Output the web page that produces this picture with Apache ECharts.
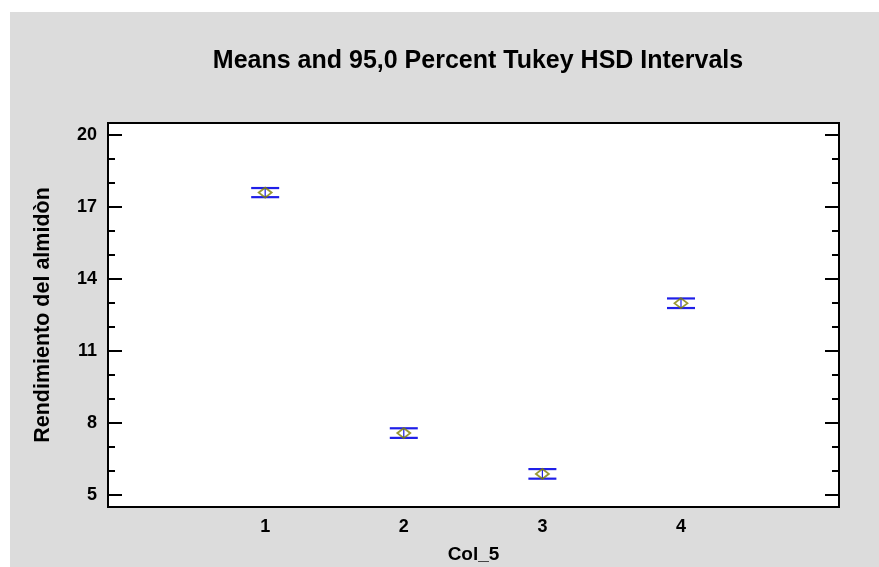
<!DOCTYPE html>
<html>
<head>
<meta charset="utf-8">
<script src="https://cdn.jsdelivr.net/npm/echarts@6/dist/echarts.min.js"></script>
<style>html,body{margin:0;padding:0;background:#fff;}#c{width:879px;height:567px;}</style>
</head>
<body>
<div id="c"></div>
<script>
const titleText = 'Means and 95,0 Percent Tukey HSD Intervals';
const xName = 'Col_5';
const yName = 'Rendimiento del almidòn';
const groupLabels = ['1', '2', '3', '4'];
const groupPos = [1, 2, 3, 4];
const means = [17.60, 7.58, 5.88, 12.99];
const lower = [17.41, 7.38, 5.68, 12.79];
const upper = [17.79, 7.78, 6.08, 13.19];
const yMajor = [5, 8, 11, 14, 17, 20];
const yMinor = [6, 7, 9, 10, 12, 13, 15, 16, 18, 19];

const FONT = '"Liberation Sans", Arial, sans-serif';
const chart = echarts.init(document.getElementById('c'), null, {renderer: 'canvas'});

const intervalData = groupPos.map((x, i) => [x, lower[i], upper[i]]);
const meanData = groupPos.map((x, i) => [x, means[i]]);

function yAxisBase(pos, ticks, len, labels) {
  return {
    type: 'value', position: pos, min: 4.5, max: 20.5, gridIndex: 0, offset: 0,
    axisLine: {show: false, onZero: false}, splitLine: {show: false},
    axisTick: {show: true, inside: true, length: len, customValues: ticks, lineStyle: {color: '#000', width: 2}},
    axisLabel: labels ? {show: true, customValues: ticks, color: '#000', fontWeight: 'bold', fontSize: 18, fontFamily: FONT, margin: 11} : {show: false}
  };
}

const option = {
  backgroundColor: '#fff',
  animation: false,
  graphic: [{type: 'rect', z: -10, silent: true, shape: {x: 10, y: 12, width: 869, height: 555}, style: {fill: '#dcdcdc'}}],
  title: {
    text: titleText, left: 473, top: 44, textAlign: 'center',
    textStyle: {fontFamily: FONT, fontWeight: 'bold', fontSize: 25, color: '#000'}
  },
  grid: {left: 108, top: 123, width: 731, height: 384, show: true, backgroundColor: '#fff', borderColor: '#000', borderWidth: 2, containLabel: false, outerBoundsMode: 'none'},
  xAxis: {
    type: 'value', min: -0.134, max: 5.14,
    name: xName, nameLocation: 'middle', nameGap: 38,
    nameTextStyle: {fontFamily: FONT, fontWeight: 'bold', fontSize: 19, color: '#000'},
    axisLine: {show: false, onZero: false}, axisTick: {show: false}, splitLine: {show: false},
    axisLabel: {
      customValues: groupPos, color: '#000', fontWeight: 'bold', fontSize: 18, fontFamily: FONT, margin: 11,
      formatter: v => groupLabels[groupPos.indexOf(v)] ?? ''
    }
  },
  yAxis: [
    Object.assign(yAxisBase('left', yMajor, 14, true), {
      name: yName, nameLocation: 'middle', nameGap: 54, nameRotate: 90,
      nameTextStyle: {fontFamily: FONT, fontWeight: 'bold', fontSize: 21.5, color: '#000'}
    }),
    yAxisBase('left', yMinor, 7, false),
    yAxisBase('right', yMajor, 14, false),
    yAxisBase('right', yMinor, 7, false)
  ],
  series: [
    {
      type: 'custom', yAxisIndex: 0, data: intervalData, z: 3,
      renderItem: function (params, api) {
        const x = api.value(0);
        const pLo = api.coord([x, api.value(1)]);
        const pHi = api.coord([x, api.value(2)]);
        const hw = 14;
        const st = {stroke: '#1f1fe8', lineWidth: 2.2};
        return {
          type: 'group',
          children: [
            {type: 'line', shape: {x1: pLo[0] - hw, y1: pLo[1], x2: pLo[0] + hw, y2: pLo[1]}, style: st},
            {type: 'line', shape: {x1: pHi[0] - hw, y1: pHi[1], x2: pHi[0] + hw, y2: pHi[1]}, style: st},
            {type: 'line', shape: {x1: pLo[0], y1: pLo[1], x2: pHi[0], y2: pHi[1]}, style: {stroke: '#1f1fe8', lineWidth: 1.2}}
          ]
        };
      }
    },
    {
      type: 'scatter', yAxisIndex: 0, data: meanData, z: 4,
      symbol: 'diamond', symbolSize: [13, 10],
      itemStyle: {color: 'rgba(0,0,0,0)', borderColor: '#808000', borderWidth: 1.8}
    }
  ]
};
chart.setOption(option);
</script>
</body>
</html>
